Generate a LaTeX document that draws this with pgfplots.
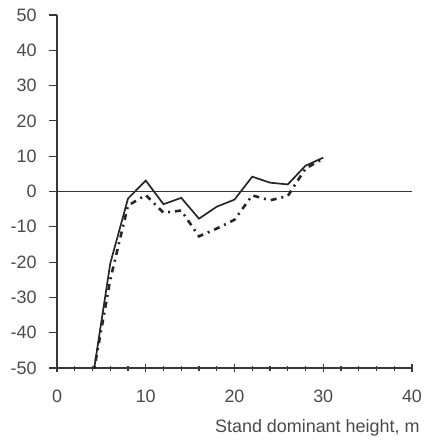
\documentclass[border=0pt]{standalone}
\usepackage{pgfplots}
\pgfplotsset{compat=1.18}
\usepackage{fontspec}
\setmainfont{Liberation Sans}
\definecolor{ink}{HTML}{383838}
\definecolor{txt}{HTML}{4a4a4a}
\begin{document}
\begin{tikzpicture}
\begin{axis}[
  scale only axis,
  width=355bp, height=353bp,
  xmin=0, xmax=40, ymin=-50, ymax=50,
  axis x line=bottom, axis y line=left,
  axis line style={ink, line width=1.2pt, -},
  xtick={0,10,20,30,40},
  minor x tick num=4,
  ytick={-50,-40,...,50},
  x tick style={ink, line width=1.2pt},
  y tick style={ink, line width=1.2pt},
  xtick align=center,
  ytick align=outside,
  major tick length=8bp,
  minor tick length=5bp,
  tick label style={font=\fontsize{18}{21}\selectfont, text=txt},
  /pgf/number format/assume math mode=true,
  xticklabel style={yshift=-14bp},
  yticklabel style={xshift=-9bp},
  xlabel={Stand dominant height, m},
  xlabel style={font=\fontsize{18}{21}\selectfont, text=txt, anchor=north east, at={(rel axis cs:1,0)}, xshift=11bp, yshift=-48bp},
  clip=true,
]
\addplot[ink, line width=1.2pt] coordinates {(0,0) (40,0)};
\addplot[black!85, line width=1.7pt] coordinates {
(4,-53.3) (6,-20.4) (8,-2) (10,3.1) (12,-3.6) (14,-1.8) (16,-7.7) (18,-4.3) (20,-2.3) (22,4.2) (24,2.5) (26,2.0) (28,7.3) (30,9.6)};
\addplot[black!85, line width=2.6pt, dash pattern=on 6bp off 5bp on 2bp off 5bp] coordinates {
(4,-53) (6,-25) (8,-4) (10,-1) (12,-6) (14,-5.4) (16,-12.7) (18,-10.5) (20,-8) (22,-1.1) (24,-2.5) (26,-1.3) (28,6.5) (30,9.3)};
\end{axis}
\pgfresetboundingbox
\path (-57bp,-73bp) rectangle (375bp,368bp);
\end{tikzpicture}
\end{document}
